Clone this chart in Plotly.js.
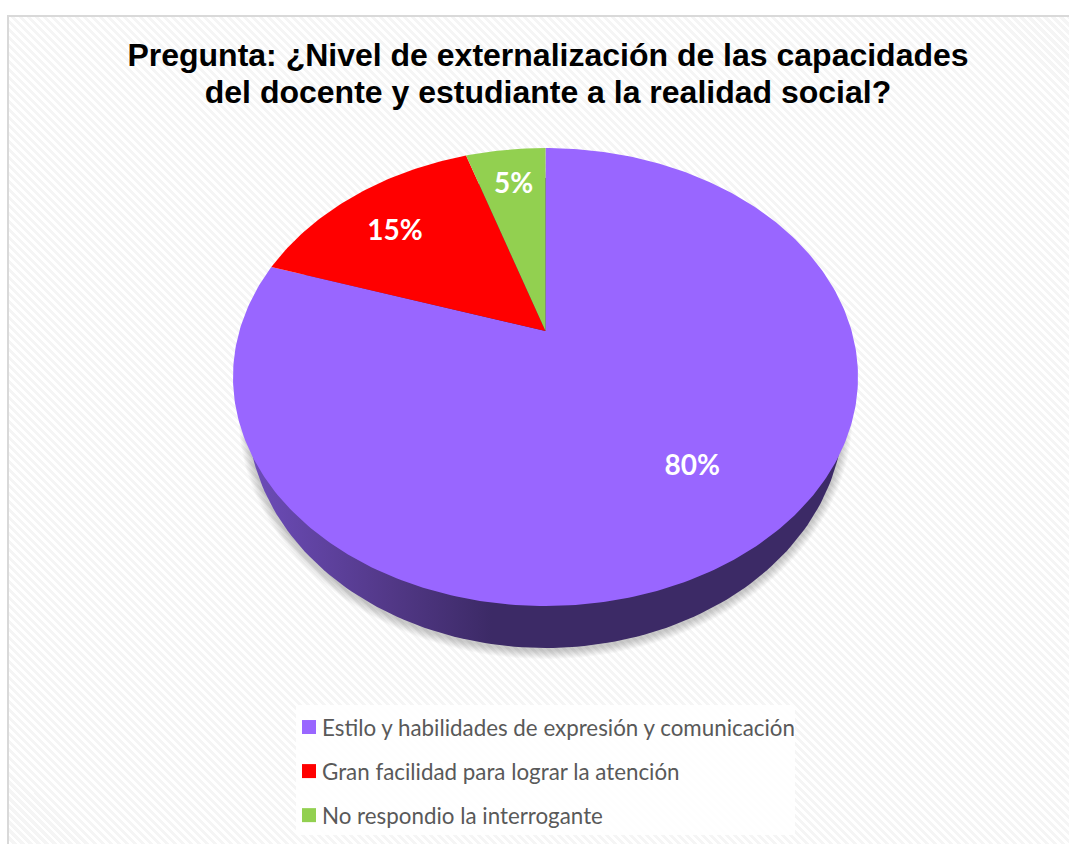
<!DOCTYPE html>
<html>
<head>
<meta charset="utf-8">
<script src="https://cdn.plot.ly/plotly-3.0.1.min.js"></script>
<style>
html,body{margin:0;padding:0;width:1069px;height:844px;overflow:hidden;background:#fff}
#frame{position:absolute;left:7px;top:15px;width:1062px;height:829px;box-sizing:border-box;border-left:2px solid #d9d9d9;border-top:2px solid #d9d9d9;
background:repeating-linear-gradient(45deg,#ffffff 0,#ffffff 2.8px,#f5f5f5 2.8px,#f5f5f5 5.66px)}
#chart{position:absolute;left:0;top:0;width:1069px;height:844px}
</style>
</head>
<body>
<div id="frame"></div>
<div id="chart"></div>
<script>
const categories = ["Estilo y habilidades de expresión y comunicación","Gran facilidad para lograr la atención","No respondio la interrogante"];
const values = [80,15,5];
const colors = ["#9966ff","#ff0000","#92d050"];
const titleText = "Pregunta: ¿Nivel de externalización de las capacidades<br>del docente y estudiante a la realidad social?";

// Perspective view of the pie: top ellipse, position of the apex, lower rim
const top_ = {cx:545.5, cy:377, rx:312.5, ry:229};
const apexY = 331;
const rim = {cx:545.5, cy:413, rx:298, ry:235};
const a = (top_.cy - apexY) / top_.ry;
const labelRadius = [0.70,0.73,0.77];
const labelAlong = [0.495,0.45,0.5];

function project(theta, rho){
  const u = rho*Math.sin(theta), v = rho*Math.cos(theta);
  const d = 1 + a*v;
  return [top_.cx + top_.rx*u*Math.sqrt(1-a*a)/d, top_.cy - top_.ry*(v+a)/d];
}
function ellipse(e, grow, dy){
  const xs=[], ys=[];
  for(let i=0;i<=240;i++){
    const t=i/240*2*Math.PI;
    xs.push(e.cx+(e.rx+grow)*Math.cos(t));
    ys.push(e.cy+dy+(e.ry+grow)*Math.sin(t));
  }
  return {x:xs,y:ys};
}
const total = values.reduce((s,v)=>s+v,0);
const traces = [];

// soft shadow under the rim
for(let k=9;k>=1;k--){
  const p = ellipse(rim,k,2);
  traces.push({type:"scatter",mode:"lines",x:p.x,y:p.y,fill:"toself",fillcolor:"rgba(0,0,0,0.025)",line:{width:0},showlegend:false,hoverinfo:"skip"});
}
// side wall
const side = ellipse(rim,0,0);
traces.push({type:"scatter",mode:"lines",x:side.x,y:side.y,fill:"toself",line:{width:0},showlegend:false,hoverinfo:"skip",
  fillgradient:{type:"horizontal",colorscale:[[0,"#6d4dba"],[0.24,"#523887"],[0.41,"#3c2a66"],[1,"#3c2a66"]]}});

// slices
let cum = 0;
const lx=[], ly=[], lt=[];
values.forEach((v,i)=>{
  const t0 = cum/total*2*Math.PI, t1 = (cum+v)/total*2*Math.PI;
  const apex = project(0,0);
  const xs=[apex[0]], ys=[apex[1]];
  const n = Math.max(8,Math.round(v*4));
  for(let j=0;j<=n;j++){
    const p = project(t0+(t1-t0)*j/n,1);
    xs.push(p[0]); ys.push(p[1]);
  }
  xs.push(apex[0]); ys.push(apex[1]);
  traces.push({type:"scatter",mode:"lines",x:xs,y:ys,fill:"toself",fillcolor:colors[i],line:{width:0},name:categories[i],showlegend:false,hoverinfo:"name"});
  const m = project(t0+(t1-t0)*labelAlong[i],labelRadius[i]);
  lx.push(m[0]); ly.push(m[1]); lt.push(Math.round(v/total*100)+"%");
  cum += v;
});
traces.push({type:"scatter",mode:"text",x:lx,y:ly,text:lt,textposition:"middle center",
  textfont:{family:"Lato, Carlito, sans-serif",size:28,color:"#ffffff",weight:700},showlegend:false,hoverinfo:"skip"});

// legend entries
categories.forEach((c,i)=>{
  traces.push({type:"scatter",mode:"markers",x:[null],y:[null],name:c,legendgroup:"g"+i,
    marker:{symbol:"square",size:14,color:colors[i]},hoverinfo:"skip"});
});

const layout = {
  width:1069,height:844,margin:{l:0,r:0,t:0,b:0},
  paper_bgcolor:"rgba(0,0,0,0)",plot_bgcolor:"rgba(0,0,0,0)",
  xaxis:{range:[0,1069],visible:false,fixedrange:true},
  yaxis:{range:[844,0],visible:false,fixedrange:true},
  title:{text:titleText,font:{family:"Liberation Sans, Arial, sans-serif",size:32,color:"#000000",weight:700},x:548/1069,xanchor:"center",y:0.94,yanchor:"middle"},
  legend:{x:282/1069,xanchor:"left",y:1-706/844,yanchor:"top",bgcolor:"rgba(0,0,0,0)",tracegroupgap:12,
    font:{family:"Lato, Carlito, sans-serif",size:22.35,color:"#595959"}},
  shapes:[{type:"rect",layer:"below",xref:"x",yref:"y",x0:296,x1:795,y0:705,y1:835,fillcolor:"rgba(255,255,255,0.85)",line:{width:0}}],
  showlegend:true
};
Plotly.newPlot("chart",traces,layout,{displayModeBar:false}).then(gd=>{
  gd.querySelectorAll(".legendsymbols").forEach(g=>g.setAttribute("transform","translate(7,0)"));
  const baselines=[66,103];
  gd.querySelectorAll(".gtitle tspan.line").forEach((t,i)=>{t.setAttribute("dy","0");t.setAttribute("y",baselines[i]);});
});
</script>
</body>
</html>
